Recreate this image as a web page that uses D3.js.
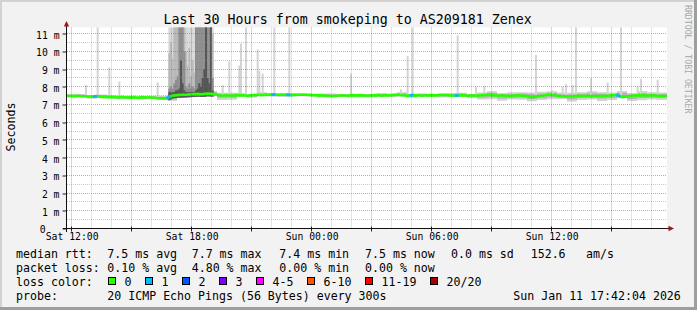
<!DOCTYPE html>
<html>
<head>
<meta charset="utf-8">
<script src="https://cdn.jsdelivr.net/npm/d3@7"></script>
<style>
  body { margin: 0; background: #f2f2f2; }
  svg { display: block; font-family: "DejaVu Sans Mono", monospace; }
</style>
</head>
<body>
<svg width="697" height="310"></svg>
<script>
// 30 hour window of the graph
const tStart = new Date(2026, 0, 10, 11, 46);
const tEnd = new Date(2026, 0, 11, 17, 46);
const yMax = 11.35;

// median rtt (ms), one value every 15 minutes from tStart
const medianStep = 15;
const medianMs = [
  7.50, 7.48, 7.50, 7.47, 7.45, 7.45, 7.47, 7.43, 7.42, 7.42,
  7.40, 7.43, 7.40, 7.42, 7.38, 7.42, 7.40, 7.40, 7.37, 7.35,
  7.36, 7.50, 7.53, 7.55, 7.56, 7.58, 7.60, 7.58, 7.62, 7.60,
  7.55, 7.50, 7.52, 7.50, 7.53, 7.52, 7.50, 7.53, 7.55, 7.53,
  7.55, 7.56, 7.55, 7.57, 7.55, 7.53, 7.55, 7.56, 7.55, 7.53,
  7.52, 7.52, 7.50, 7.48, 7.50, 7.52, 7.50, 7.53, 7.52, 7.53,
  7.50, 7.52, 7.53, 7.50, 7.52, 7.53, 7.55, 7.52, 7.50, 7.53,
  7.52, 7.50, 7.52, 7.53, 7.52, 7.55, 7.53, 7.50, 7.52, 7.53,
  7.50, 7.52, 7.50, 7.53, 7.55, 7.53, 7.50, 7.52, 7.48, 7.50,
  7.52, 7.50, 7.48, 7.40, 7.47, 7.50, 7.55, 7.55, 7.50, 7.48,
  7.45, 7.47, 7.50, 7.48, 7.50, 7.47, 7.50, 7.48, 7.50, 7.52,
  7.55, 7.42, 7.45, 7.50, 7.52, 7.53, 7.50, 7.52, 7.50, 7.48,
  7.50
];

// smoke around the median (ms below / above), one value every 30 minutes
const bandStep = 30;
const bandAbove = [
  0.08, 0.10, 0.06, 0.10, 0.12, 0.08, 0.10, 0.06, 0.10, 0.12,
  0.15, 0.15, 0.15, 0.15, 0.15, 0.12, 0.15,
  0.12, 0.08, 0.14, 0.10, 0.08, 0.10, 0.06, 0.08, 0.10, 0.12, 0.10, 0.08,
  0.06, 0.10, 0.12, 0.10, 0.15, 0.10, 0.12, 0.08, 0.10, 0.12, 0.15, 0.10,
  0.18, 0.20, 0.15, 0.22, 0.18, 0.20, 0.25, 0.20, 0.18, 0.22,
  0.20, 0.25, 0.20, 0.18, 0.22, 0.20, 0.25, 0.20, 0.18, 0.20
];
const bandBelow = [
  0.10, 0.08, 0.12, 0.10, 0.08, 0.12, 0.10, 0.10, 0.08, 0.12,
  0.15, 0.15, 0.15, 0.15, 0.15, 0.30, 0.25,
  0.10, 0.12, 0.08, 0.10, 0.12, 0.10, 0.08, 0.10, 0.12, 0.10, 0.08, 0.10,
  0.12, 0.10, 0.08, 0.10, 0.10, 0.12, 0.08, 0.10, 0.12, 0.10, 0.10, 0.15,
  0.22, 0.25, 0.28, 0.20, 0.25, 0.30, 0.22, 0.25, 0.20, 0.28,
  0.25, 0.22, 0.30, 0.25, 0.20, 0.25, 0.28, 0.22, 0.25, 0.20
];

// single slow pings: time and slowest ping (ms)
const spikeTimes = [
  "2026-01-10 12:40", "2026-01-10 13:15", "2026-01-10 13:50", "2026-01-10 14:20",
  "2026-01-10 16:15", "2026-01-10 19:30", "2026-01-10 19:50", "2026-01-10 20:20",
  "2026-01-10 20:25", "2026-01-10 20:40", "2026-01-10 21:15", "2026-01-10 21:20",
  "2026-01-10 21:30", "2026-01-10 22:05", "2026-01-10 22:50", "2026-01-11 01:55",
  "2026-01-11 04:25", "2026-01-11 04:45", "2026-01-11 05:00", "2026-01-11 07:15",
  "2026-01-11 08:10", "2026-01-11 08:35", "2026-01-11 11:10", "2026-01-11 12:00",
  "2026-01-11 12:30", "2026-01-11 12:40", "2026-01-11 13:00", "2026-01-11 13:10",
  "2026-01-11 13:55", "2026-01-11 14:45", "2026-01-11 15:25", "2026-01-11 16:15",
  "2026-01-11 16:25", "2026-01-11 17:15"
];
const spikeMs = [
  8.1, 12, 9.1, 8.3,
  8.25, 8.1, 9.45, 9.2,
  10.45, 12, 10.1, 8.9,
  8.75, 12, 12, 8.75,
  7.85, 9.75, 12, 10.9,
  8.0, 8.05, 9.8, 7.8,
  8.0, 8.15, 8.1, 12,
  8.5, 8.25, 12, 8.0,
  8.45, 8.4
];

// saturday evening burst, every 5 minutes from 16:50
const burstStart = "2026-01-10 16:50";
const burstStep = 5;
const burstMax = [12, 12, 12, 12, 12, 12, 12, 12, 12, 12, 12, 12, 12, 12,
                  12, 12, 12, 12, 12, 12, 12, 12, 12, 12, 12, 12, 12];
const burstQ3 = [9.9, 10.5, 9.6, 12, 12, 12, 12, 12, 12, 12, 10, 9.2, 10.2, 8.6,
                 9.5, 8.8, 12, 12, 12, 12, 12, 12, 12, 12, 12, 12, 11];
const burstQ2 = [7.9, 8.0, 7.9, 8.2, 8.4, 8.6, 12, 12, 11.5, 10, 8.0, 7.9, 8.2, 7.9,
                 8.0, 7.9, 12, 12, 12, 12, 12, 12, 12, 12, 12, 12, 8.5];
const burstCore = [7.7, 7.7, 7.7, 7.7, 7.8, 7.8, 7.9, 9.5, 8.2, 7.8, 7.7, 7.7, 7.7, 7.7,
                   7.7, 7.7, 7.8, 7.9, 8.2, 8.0, 8.5, 9.0, 12, 8.5, 8.2, 12, 7.8];

// lost packets
const lossTimes = ["2026-01-10 13:10", "2026-01-10 16:50", "2026-01-10 22:05", "2026-01-10 22:50",
                   "2026-01-11 05:00", "2026-01-11 07:15", "2026-01-11 15:20"];
const lossCount = [1, 1, 1, 1, 1, 1, 1];

// legend
const lossLabels = ["0", "1", "2", "3", "4-5", "6-10", "11-19", "20/20"];
const lossColors = ["#26ff00", "#00b8ff", "#0059ff", "#7e00ff", "#ff00ff", "#ff5500", "#ff0000", "#a10000"];
const lossLimits = [1, 2, 3, 4, 6, 11, 20];
const rttStats = ["7.5 ms avg", "7.7 ms max", "7.4 ms min", "7.5 ms now", "0.0 ms sd", "152.6", "am/s"];
const lossStats = ["0.10 % avg", "4.80 % max", "0.00 % min", "0.00 % now"];
const yTickValues = [0, 1, 2, 3, 4, 5, 6, 7, 8, 9, 10, 11];

const W = 697, H = 310;
const plot = {left: 67, right: 667, top: 27.5, bottom: 228.5};
const svg = d3.select("svg");
const parse = d3.timeParse("%Y-%m-%d %H:%M");
const crisp = v => Math.floor(v) + 0.5;

const x = d3.scaleTime().domain([tStart, tEnd]).range([plot.left, plot.right]);
const y = d3.scaleLinear().domain([0, yMax]).range([plot.bottom, plot.top]);
const lossColor = d3.scaleThreshold().domain(lossLimits).range(lossColors);

function medianAt(t) {
  const f = (t - tStart) / 60000 / medianStep;
  const i = Math.max(0, Math.min(medianMs.length - 2, Math.floor(f)));
  return medianMs[i] + (medianMs[i + 1] - medianMs[i]) * (f - i);
}

// background and frame
svg.append("rect").attr("width", W).attr("height", H).attr("fill", "#f2f2f2");
svg.append("rect").attr("width", W).attr("height", 2).attr("fill", "#d2d2d2");
svg.append("rect").attr("width", 2).attr("height", H).attr("fill", "#d2d2d2");
svg.append("rect").attr("x", W - 3).attr("width", 3).attr("height", H).attr("fill", "#9e9e9e");
svg.append("rect").attr("y", H - 3).attr("width", W).attr("height", 3).attr("fill", "#9e9e9e");

svg.append("rect")
  .attr("x", plot.left).attr("y", plot.top)
  .attr("width", plot.right - plot.left).attr("height", plot.bottom - plot.top)
  .attr("fill", "#fff");

svg.append("defs").append("clipPath").attr("id", "clip")
  .append("rect")
  .attr("x", plot.left).attr("y", plot.top)
  .attr("width", plot.right - plot.left).attr("height", plot.bottom - plot.top);

const g = svg.append("g").attr("clip-path", "url(#clip)");

// smoke band
const band = bandAbove.map((a, i) => {
  const t = d3.timeMinute.offset(tStart, i * bandStep);
  const m = medianAt(t);
  return {t, m, lo: bandBelow[i], hi: a};
});
const bandArea = k => d3.area()
  .curve(d3.curveStepAfter)
  .x(d => x(d.t))
  .y0(d => y(d.m - d.lo * k))
  .y1(d => y(d.m + d.hi * k));
g.append("path").datum(band).attr("d", bandArea(1)).attr("fill", "#d2d2d2");
g.append("path").datum(band).attr("d", bandArea(0.55)).attr("fill", "#b4b4b4");

// single slow pings
spikeTimes.forEach((s, i) => {
  const t = parse(s);
  g.append("rect")
    .attr("x", x(t)).attr("width", 2)
    .attr("y", y(spikeMs[i]))
    .attr("height", y(medianAt(t)) - y(spikeMs[i]))
    .attr("fill", "#d4d4d4");
});

// burst columns, lightest (all pings) to darkest (middle pings)
const burstLevels = [burstMax, burstQ3, burstQ2, burstCore];
const burstShades = ["#d8d8d8", "#bababa", "#8e8e8e", "#555555"];
const b0 = parse(burstStart);
burstLevels.forEach((level, k) => {
  level.forEach((v, j) => {
    const t = d3.timeMinute.offset(b0, j * burstStep);
    const t1 = d3.timeMinute.offset(t, burstStep);
    const base = medianAt(t) - 0.15;
    g.append("rect")
      .attr("x", x(t)).attr("width", x(t1) - x(t) + 0.3)
      .attr("y", y(v)).attr("height", y(base) - y(v))
      .attr("fill", burstShades[k]);
  });
});

// median line
const medianData = medianMs.map((v, i) => ({t: d3.timeMinute.offset(tStart, i * medianStep), v}));
const line = d3.line().x(d => x(d.t)).y(d => y(d.v));
g.append("path").datum(medianData)
  .attr("d", line)
  .attr("fill", "none")
  .attr("stroke", lossColor(0))
  .attr("stroke-width", 2.6);

// parts of the median with lost packets
lossTimes.forEach((s, i) => {
  const t = parse(s);
  const ta = d3.timeMinute.offset(t, -6), tb = d3.timeMinute.offset(t, 6);
  g.append("path")
    .datum([{t: ta, v: medianAt(ta)}, {t: tb, v: medianAt(tb)}])
    .attr("d", line)
    .attr("stroke", lossColor(lossCount[i]))
    .attr("stroke-width", 2.8);
});

// grid on top of the graph
const grid = svg.append("g").attr("fill", "none").attr("stroke-dasharray", "1,1");
const yGrid = y.ticks(24).filter(v => v > 0);
grid.selectAll(".hg").data(yGrid).join("line")
  .attr("x1", plot.left).attr("x2", plot.right)
  .attr("y1", d => crisp(y(d))).attr("y2", d => crisp(y(d)))
  .attr("stroke", d => Number.isInteger(d) ? "rgba(220,50,50,0.5)" : "rgba(150,150,150,0.5)");
const xGrid = d3.timeHour.every(1).range(tStart, tEnd);
grid.selectAll(".vg").data(xGrid).join("line")
  .attr("y1", plot.top).attr("y2", plot.bottom)
  .attr("x1", d => crisp(x(d))).attr("x2", d => crisp(x(d)))
  .attr("stroke", d => d.getHours() % 3 === 0 ? "rgba(220,50,50,0.5)" : "rgba(150,150,150,0.5)");

// axes
const yAxis = svg.append("g")
  .attr("transform", "translate(" + 66.5 + ",0)")
  .call(d3.axisLeft(y).tickValues(yTickValues)
    .tickFormat(d => d === 0 ? "0" : d + " m")
    .tickSize(4).tickPadding(3));
yAxis.select(".domain").remove();
yAxis.selectAll("text")
  .attr("font-size", 9.75).attr("font-family", "DejaVu Sans Mono").attr("fill", "#000")
  .attr("dy", "0.45em")
  .attr("dx", d => d === 0 ? -14 : 0);
yAxis.selectAll(".tick line").attr("stroke", "#222").attr("transform", d => "translate(0," + (crisp(y(d)) - y(d)) + ")");

const xAxis = svg.append("g")
  .attr("transform", "translate(0," + plot.bottom + ")")
  .call(d3.axisBottom(x).ticks(d3.timeHour.every(6))
    .tickFormat(d3.timeFormat("%a %H:%M"))
    .tickSize(0).tickPadding(5));
xAxis.select(".domain").remove();
xAxis.selectAll("text")
  .attr("font-size", 9.75).attr("font-family", "DejaVu Sans Mono").attr("fill", "#000");

svg.selectAll(".xt").data(d3.timeHour.every(3).range(tStart, tEnd)).join("line")
  .attr("x1", d => crisp(x(d))).attr("x2", d => crisp(x(d)))
  .attr("y1", plot.bottom - 2).attr("y2", plot.bottom + 3)
  .attr("stroke", "#222");

svg.append("line").attr("x1", 66.5).attr("x2", 66.5).attr("y1", 232).attr("y2", 25)
  .attr("stroke", "#111");
svg.append("line").attr("x1", 63).attr("x2", 670).attr("y1", plot.bottom).attr("y2", plot.bottom)
  .attr("stroke", "#111");
svg.append("path").attr("d", "M63.8,26.5L69.2,26.5L66.5,21Z").attr("fill", "#a31515");
svg.append("path").attr("d", "M668.5,225.8L668.5,231.2L674,228.5Z").attr("fill", "#a31515");

// titles
svg.append("text")
  .attr("x", 347.7).attr("y", 23.5)
  .attr("text-anchor", "middle").attr("font-size", 13.3)
  .text("Last 30 Hours from smokeping to AS209181 Zenex");

svg.append("text")
  .attr("transform", "translate(14.5,127) rotate(-90)")
  .attr("text-anchor", "middle").attr("font-size", 11.6)
  .text("Seconds");

svg.append("text")
  .attr("transform", "translate(685,5) rotate(90)")
  .attr("font-size", 8.2).attr("fill", "#a8a8a8")
  .text("RRDTOOL / TOBI OETIKER");

// legend
const leg = svg.append("g").attr("font-size", 11.6).attr("fill", "#000");
const statX = [107.3, 191.7, 279.3, 365, 451, 530.7, 586];
const rows = [258, 272, 286, 300];

leg.append("text").attr("x", 16).attr("y", rows[0]).text("median rtt:");
rttStats.forEach((s, i) => leg.append("text").attr("x", statX[i]).attr("y", rows[0]).text(s));

leg.append("text").attr("x", 16).attr("y", rows[1]).text("packet loss:");
lossStats.forEach((s, i) => leg.append("text").attr("x", statX[i]).attr("y", rows[1]).text(s));

leg.append("text").attr("x", 16).attr("y", rows[2]).text("loss color:");
let bx = 108.5;
lossLabels.forEach((s, i) => {
  leg.append("rect")
    .attr("x", bx).attr("y", rows[2] - 8.5)
    .attr("width", 7).attr("height", 7)
    .attr("fill", lossColors[i]).attr("stroke", "#000");
  leg.append("text").attr("x", bx + 16).attr("y", rows[2]).text(s);
  bx += s.length * 7 + 30;
});

leg.append("text").attr("x", 16).attr("y", rows[3]).text("probe:");
leg.append("text").attr("x", 107.3).attr("y", rows[3]).text("20 ICMP Echo Pings (56 Bytes) every 300s");
leg.append("text").attr("x", 513.3).attr("y", rows[3]).text("Sun Jan 11 17:42:04 2026");
</script>
</body>
</html>
